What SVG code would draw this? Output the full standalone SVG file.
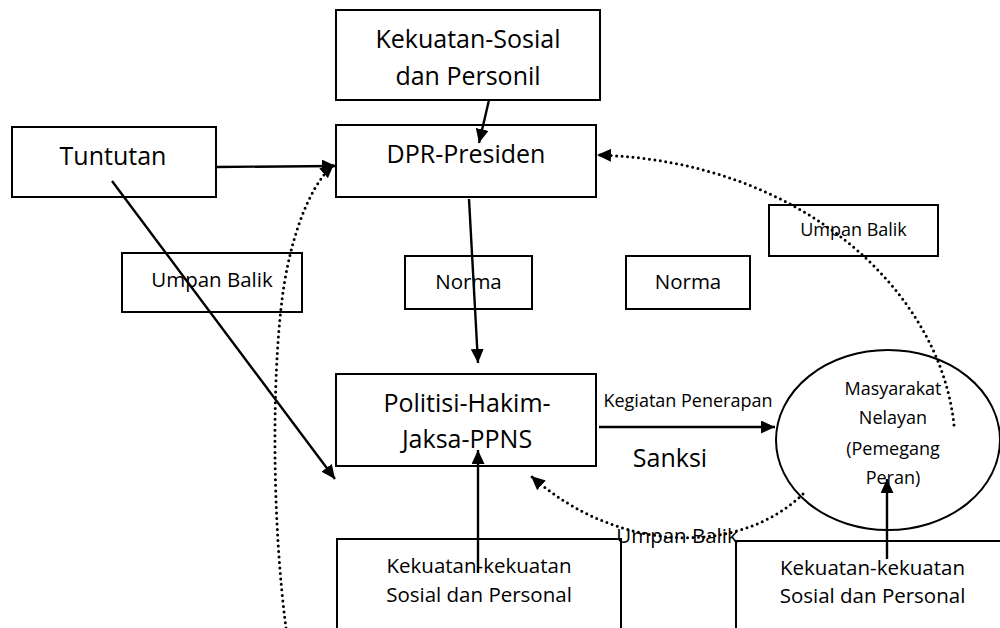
<svg xmlns="http://www.w3.org/2000/svg" width="1000" height="628" viewBox="0 0 1000 628">
<style>
.box{fill:#fff;stroke:#000;stroke-width:2}
.ell{fill:none;stroke:#000;stroke-width:2}
.ln{fill:none;stroke:#000;stroke-width:2.4}
.dot{fill:none;stroke:#000;stroke-width:3;stroke-dasharray:0 5.5;stroke-linecap:round}
text{font-family:"Open Sans","DejaVu Sans",sans-serif;fill:#000;text-anchor:middle}
.L{font-size:25px}
.M{font-size:20.5px}
.S{font-size:18px}
</style>
<defs>
<marker id="ah" markerWidth="14" markerHeight="13" refX="14" refY="6.5" orient="auto" markerUnits="userSpaceOnUse">
<path d="M0,0 L14,6.5 L0,13 z" fill="#000"/>
</marker>
</defs>
<rect width="1000" height="628" fill="#fff"/>

<g id="kekuatan-sosial">
<rect class="box" x="336" y="10" width="264" height="90"/>
<text class="L" x="468" y="48">Kekuatan-Sosial</text>
<text class="L" x="468" y="85">dan Personil</text>
</g>
<g id="tuntutan">
<rect class="box" x="12" y="127" width="204" height="70"/>
<text class="L" x="113" y="165">Tuntutan</text>
</g>
<g id="dpr-presiden">
<rect class="box" x="336" y="125" width="260" height="72"/>
<text class="L" x="466" y="163">DPR-Presiden</text>
</g>
<g id="umpan-balik-kiri">
<rect class="box" x="122" y="253" width="180" height="59"/>
<text class="M" x="212" y="287">Umpan Balik</text>
</g>
<g id="norma-1">
<rect class="box" x="405" y="256" width="127" height="53"/>
<text class="M" x="468.5" y="289">Norma</text>
</g>
<g id="norma-2">
<rect class="box" x="626" y="256" width="124" height="53"/>
<text class="M" x="688" y="289">Norma</text>
</g>
<g id="umpan-balik-kanan">
<rect class="box" x="769" y="205" width="169" height="51"/>
<text class="S" x="853.5" y="236">Umpan Balik</text>
</g>
<g id="politisi">
<rect class="box" x="336" y="374" width="260" height="92"/>
<text class="L" x="467" y="412">Politisi-Hakim-</text>
<text class="L" x="467" y="448">Jaksa-PPNS</text>
</g>
<g id="masyarakat">
<ellipse class="ell" cx="888" cy="440" rx="112" ry="90"/>
<text class="S" x="893" y="395">Masyarakat</text>
<text class="S" x="893" y="424">Nelayan</text>
<text class="S" x="893" y="455">(Pemegang</text>
<text class="S" x="893" y="484">Peran)</text>
</g>
<g id="kekuatan-kiri">
<rect class="box" x="337" y="539" width="284" height="100"/>
<text class="M" x="479" y="573">Kekuatan-kekuatan</text>
<text class="M" x="479" y="602">Sosial dan Personal</text>
</g>
<g id="kekuatan-kanan">
<rect class="box" x="736" y="541" width="280" height="100"/>
<text class="M" x="872.5" y="575">Kekuatan-kekuatan</text>
<text class="M" x="872.5" y="603">Sosial dan Personal</text>
</g>

<g id="connectors">
<path class="ln" d="M489,100 L479,143" marker-end="url(#ah)"/>
<path class="ln" d="M216,167 L336,166" marker-end="url(#ah)"/>
<path class="ln" d="M469,199 L478,363" marker-end="url(#ah)"/>
<path class="ln" d="M112,181 L335,479" marker-end="url(#ah)"/>
<path class="ln" d="M599,427 L775,427" marker-end="url(#ah)"/>
<path class="ln" d="M478,573 L478,450" marker-end="url(#ah)"/>
<path class="ln" d="M887,559 L887,479" marker-end="url(#ah)"/>
<path class="dot" d="M954,425 C940,290 800,160 597,155" marker-end="url(#ah)"/>
<path class="dot" d="M803,494 C740,555 620,555 531,476" marker-end="url(#ah)"/>
<path class="dot" d="M286,628 C272,520 272,380 282,300 C288,250 305,190 334,164" marker-end="url(#ah)"/>
<text class="S" x="688" y="407">Kegiatan Penerapan</text>
<text class="L" x="670" y="467">Sanksi</text>
<text class="M" x="677" y="543">Umpan Balik</text>
</g>
</svg>
